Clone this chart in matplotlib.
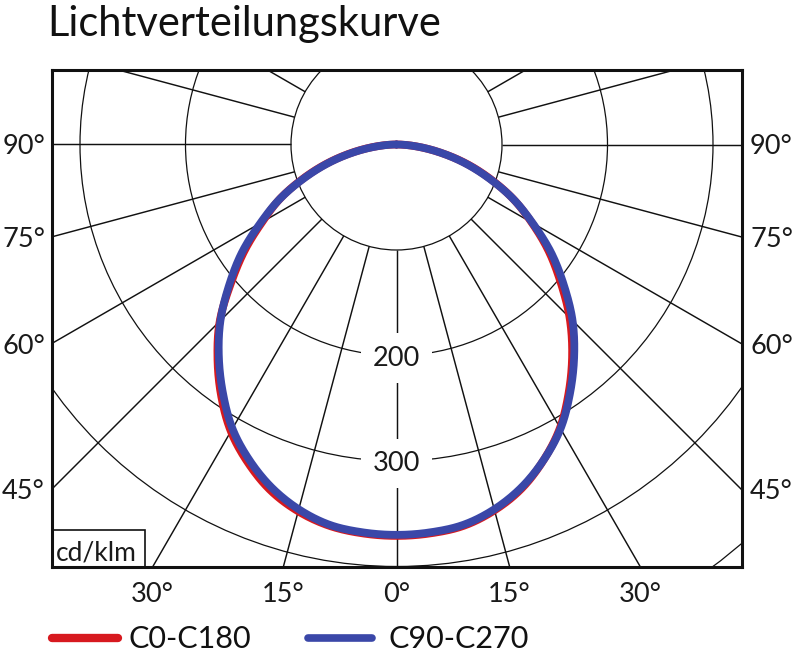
import numpy as np
import matplotlib
matplotlib.use("Agg")
import matplotlib.pyplot as plt
from matplotlib.patches import Circle, Rectangle
from matplotlib.lines import Line2D

plt.rcParams['font.family'] = ['Lato', 'DejaVu Sans']

# ---- data (cd/klm) ----
gamma = [0, 5, 10, 15, 20, 25, 30, 35, 40, 45, 50, 55, 60, 65, 70, 75, 80, 85, 90]
c0_c180_right = [371, 370, 367, 359, 347, 330, 310, 285, 259, 232, 203, 176, 148, 122, 94, 67, 40, 17, 0]
c0_c180_left = [371, 370, 367, 360, 349, 333, 314, 290, 264, 237, 205, 176, 147, 122, 94, 67, 41, 18, 0]
c90_c270 = [370, 369, 366, 358, 346, 330, 311, 287, 262, 236, 207, 179, 149, 122, 93, 66, 40, 17, 0]

grid_circles = [100, 200, 300, 400, 500, 600]
circle_labels = [200, 300]
side_labels = ["90°", "75°", "60°", "45°"]
side_angles = [90, 75, 60, 45]
bottom_labels = ["30°", "15°", "0°", "15°", "30°"]
bottom_angles = [-30, -15, 0, 15, 30]
series_names = ["C0-C180", "C90-C270"]
colors = ["#d7191f", "#3a47a8"]
title = "Lichtverteilungskurve"
unit = "cd/klm"

W, H = 794, 652
fig = plt.figure(figsize=(W / 100, H / 100), dpi=100)

def fx(px):
    return px / W

def fy(py):
    return 1 - py / H

# axes box in pixels
L, R, T, B = 51.7, 741.7, 70.0, 566.7
cx, cy = 396.5, 144.5
s = 1.055  # px per cd/klm
ax = fig.add_axes([fx(L), fy(B), fx(R) - fx(L), fy(T) - fy(B)])
ax.set_xlim((L - cx) / s, (R - cx) / s)
ax.set_ylim(-(B - cy) / s, (cy - T) / s)
ax.set_aspect('equal', adjustable='box')
ax.set_xticks([])
ax.set_yticks([])
for sp in ax.spines.values():
    sp.set_linewidth(2.2)
    sp.set_color('#111111')
    sp.set_zorder(10)

gc = '#111111'
for r in grid_circles:
    ax.add_patch(Circle((0, 0), r, fill=False, lw=0.9, ec=gc, zorder=1))
for k in range(24):
    a = np.deg2rad(k * 15)
    ax.plot([100 * np.sin(a), 1000 * np.sin(a)], [-100 * np.cos(a), -1000 * np.cos(a)],
            color=gc, lw=1.05, zorder=1, solid_capstyle='butt')

for v in circle_labels:
    ax.text(0, -v, str(v), ha='center', va='center_baseline', fontsize=19.5, color='#1a1a1a',
            zorder=3, bbox=dict(facecolor='white', edgecolor='none', boxstyle='square,pad=0.45'))


def smooth_side(vals, other):
    """Catmull-Rom through the read points, I as a function of gamma."""
    v = np.array(vals, dtype=float)
    o = np.array(other, dtype=float)
    ext = np.concatenate([[o[1]], v, [2 * v[-1] - v[-2]]])
    g = np.array(gamma, dtype=float)
    gs, Is = [], []
    n = 20
    for i in range(len(v) - 1):
        P0, P1, P2, P3 = ext[i], ext[i + 1], ext[i + 2], ext[i + 3]
        t = np.linspace(0, 1, n, endpoint=False)
        p = 0.5 * (2 * P1 + (-P0 + P2) * t + (2 * P0 - 5 * P1 + 4 * P2 - P3) * t ** 2
                   + (-P0 + 3 * P1 - 3 * P2 + P3) * t ** 3)
        gs.append(g[i] + (g[i + 1] - g[i]) * t)
        Is.append(p)
    gs.append([g[-1]])
    Is.append([v[-1]])
    return np.deg2rad(np.concatenate(gs)), np.clip(np.concatenate(Is), 0, None)


def curve(right, left):
    gr, r = smooth_side(right, left)
    gl, l = smooth_side(left, right)
    xr, yr = r * np.sin(gr), -r * np.cos(gr)
    xl, yl = -l * np.sin(gl), -l * np.cos(gl)
    x = np.concatenate([xr[::-1], xl[1:]])
    y = np.concatenate([yr[::-1], yl[1:]])
    return x, y

x1, y1 = curve(c0_c180_right, c0_c180_left)
x2, y2 = curve(c90_c270, c90_c270)
ax.plot(x1, y1, color=colors[0], lw=5.6, zorder=5, solid_joinstyle='round', solid_capstyle='round')
ax.plot(x2, y2, color=colors[1], lw=5.6, zorder=6, solid_joinstyle='round', solid_capstyle='round')

# unit box
ax.add_patch(Rectangle(((L - cx) / s, -(B - cy) / s), (145 - L) / s, (B - 530) / s,
                       fill=True, fc='white', ec='#111111', lw=1.2, zorder=8))
fig.text(fx(56), fy(561), unit, fontsize=19, color='#1a1a1a', ha='left', va='baseline')

# side labels
for lab, a in zip(side_labels, side_angles):
    py = cy + (cx - L) / np.tan(np.deg2rad(a)) if a != 90 else cy
    fig.text(fx(45), fy(py), lab, fontsize=19.5, ha='right', va='center_baseline', color='#1a1a1a')
    fig.text(fx(750), fy(py), lab, fontsize=19.5, ha='left', va='center_baseline', color='#1a1a1a')

for lab, a in zip(bottom_labels, bottom_angles):
    px = cx + (B - cy) * np.tan(np.deg2rad(a))
    fig.text(fx(px), fy(602), lab, fontsize=19.5, ha='center', va='baseline', color='#1a1a1a')

fig.text(fx(47), fy(36), title, fontsize=30, ha='left', va='baseline', color='#111111')

# legend
ly = 638
fig.add_artist(Line2D([fx(52), fx(118)], [fy(ly), fy(ly)], color=colors[0], lw=6, solid_capstyle='round'))
fig.text(fx(128), fy(648), series_names[0], fontsize=22, ha='left', va='baseline', color='#111111')
fig.add_artist(Line2D([fx(308), fx(372)], [fy(ly), fy(ly)], color=colors[1], lw=5.5, solid_capstyle='round'))
fig.text(fx(388), fy(648), series_names[1], fontsize=22, ha='left', va='baseline', color='#111111')

fig.savefig("out.png", dpi=100)
